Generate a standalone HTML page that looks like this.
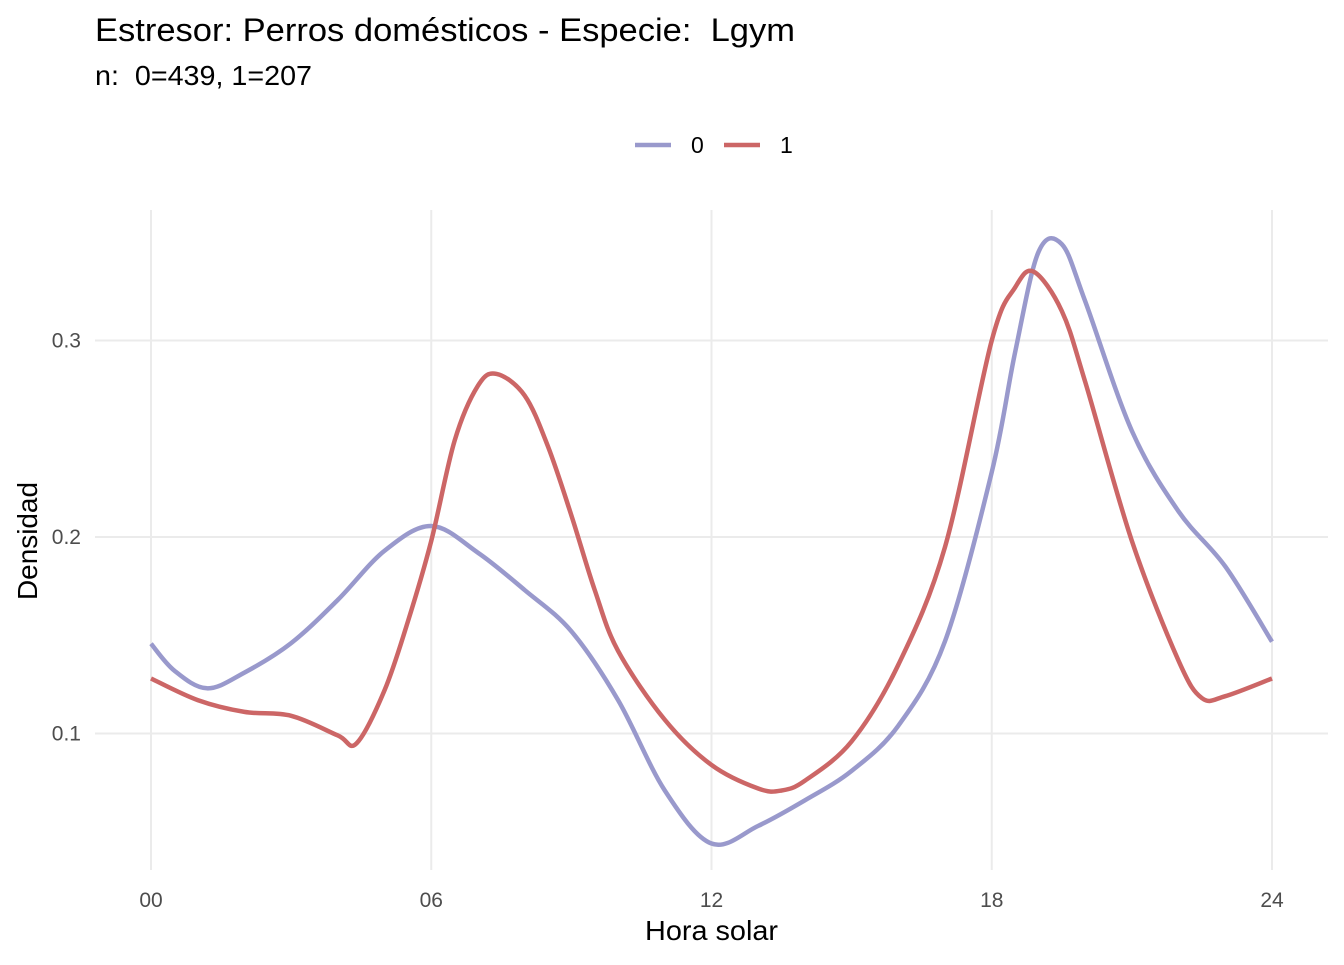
<!DOCTYPE html>
<html><head><meta charset="utf-8"><style>
body{margin:0;background:#fff;font-family:"Liberation Sans",sans-serif;}
text{white-space:pre;}
</style></head><body>
<svg id="chart" width="1344" height="960" xmlns="http://www.w3.org/2000/svg">
<text x="95" y="41" font-size="32" fill="#000" xml:space="preserve" textLength="700" lengthAdjust="spacingAndGlyphs">Estresor: Perros domésticos - Especie:  Lgym</text>
<text x="95" y="85" font-size="28" fill="#000" xml:space="preserve" textLength="217" lengthAdjust="spacingAndGlyphs">n:  0=439, 1=207</text>
<g>
<line x1="635" y1="145" x2="671" y2="145" stroke="#9999cc" stroke-width="4.5"/>
<text x="691" y="153" font-size="23">0</text>
<line x1="724" y1="145" x2="760" y2="145" stroke="#cc6666" stroke-width="4.5"/>
<text x="780" y="153" font-size="23">1</text>
</g>
<g id="grid"></g>
<g id="series"></g>
<g id="axes"></g>
<text x="645" y="940" font-size="28" textLength="133" lengthAdjust="spacingAndGlyphs">Hora solar</text>
<text transform="translate(37,600) rotate(-90)" font-size="28" textLength="118" lengthAdjust="spacingAndGlyphs">Densidad</text>
</svg>
<script>
const xTicks=[0,6,12,18,24];
const xTickLabels=["00","06","12","18","24"];
const yTicks=[0.1,0.2,0.3];
const yTickLabels=["0.1","0.2","0.3"];
const hours0=[0,0.5,1.2,2,3,4,5,6,7,8,9,10,11,12,13,14,15,16,17,18,18.5,19,19.5,20,21,22,23,24];
const dens0=[0.1457,0.132,0.123,0.131,0.146,0.168,0.193,0.2056,0.192,0.173,0.152,0.117,0.071,0.044,0.053,0.066,0.081,0.104,0.147,0.233,0.294,0.345,0.349,0.320,0.254,0.213,0.185,0.1467];
const hours1=[0,1,2,3,4,4.4,5,5.5,6,6.5,7,7.4,8,8.5,9,9.5,10,11,12,13,13.5,14,15,16,17,18,18.5,18.9,19.5,20,21,22,22.5,23,24];
const dens1=[0.128,0.117,0.111,0.109,0.099,0.095,0.122,0.157,0.198,0.249,0.277,0.283,0.272,0.246,0.211,0.173,0.142,0.107,0.084,0.072,0.071,0.076,0.096,0.135,0.195,0.30,0.327,0.335,0.315,0.279,0.198,0.137,0.118,0.119,0.128];
const X=h=>151+h*(1272-151)/24;
const Y=v=>930-v*1965;
const NS="http://www.w3.org/2000/svg";
const grid=document.getElementById('grid'),axes=document.getElementById('axes'),series=document.getElementById('series');
function mk(t,a){const e=document.createElementNS(NS,t);for(const k in a)e.setAttribute(k,a[k]);return e;}
yTicks.forEach((v,i)=>{const l=mk('line',{x1:95,x2:1328,y1:Y(v),y2:Y(v),stroke:'#ebebeb','stroke-width':2});

grid.appendChild(l);
const t=mk('text',{x:81,y:Y(v)+7,'font-size':21,'text-anchor':'end',fill:'#4d4d4d'});t.textContent=yTickLabels[i];

axes.appendChild(t);});
xTicks.forEach((h,i)=>{const l=mk('line',{x1:X(h),x2:X(h),y1:210,y2:870,stroke:'#ebebeb','stroke-width':2});

grid.appendChild(l);
const t=mk('text',{x:X(h),y:907,'font-size':21,'text-anchor':'middle',fill:'#4d4d4d'});t.textContent=xTickLabels[i];

axes.appendChild(t);});
function path(hs,vs){const p=hs.map((h,i)=>[X(h),Y(vs[i])]);let d='M'+p[0][0]+','+p[0][1];
for(let i=0;i<p.length-1;i++){const p0=p[Math.max(0,i-1)],p1=p[i],p2=p[i+1],p3=p[Math.min(p.length-1,i+2)];
d+=' C'+(p1[0]+(p2[0]-p0[0])/6)+','+(p1[1]+(p2[1]-p0[1])/6)+' '+(p2[0]-(p3[0]-p1[0])/6)+','+(p2[1]-(p3[1]-p1[1])/6)+' '+p2[0]+','+p2[1];}
return d;}
const s0=mk('path',{d:path(hours0,dens0),fill:'none',stroke:'#9999cc','stroke-width':4.5});

series.appendChild(s0);
const s1=mk('path',{d:path(hours1,dens1),fill:'none',stroke:'#cc6666','stroke-width':4.5});

series.appendChild(s1);
</script>
</body></html>
